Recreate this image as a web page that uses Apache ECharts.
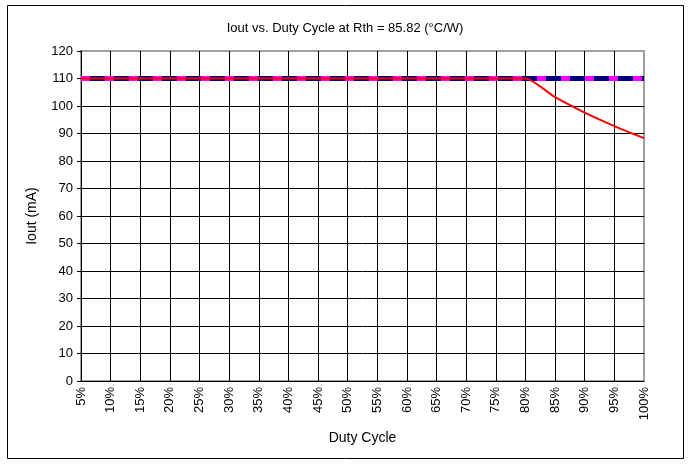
<!DOCTYPE html>
<html><head><meta charset="utf-8">
<script src="https://cdn.jsdelivr.net/npm/echarts@6/dist/echarts.min.js"></script>
<style>html,body{margin:0;padding:0;background:#fff}#c{width:690px;height:464px}</style>
</head><body><div id="c"></div>
<script>
var categories = ['5%','10%','15%','20%','25%','30%','35%','40%','45%','50%','55%','60%','65%','70%','75%','80%','85%','90%','95%','100%'];
var ioutActual = [110,110,110,110,110,110,110,110,110,110,110,110,110,110,110,110,103.2,97.6,92.7,88.3];
var ioutTarget = [110,110,110,110,110,110,110,110,110,110,110,110,110,110,110,110,110,110,110,110];
var ioutSet = [110,110,110,110,110,110,110,110,110,110,110,110,110,110,110,110,110,110,110,110];
var yTicks = {min: 0, max: 120, interval: 10};
var font = '"Liberation Sans", Arial, sans-serif';
var chart = echarts.init(document.getElementById('c'), null, {renderer: 'canvas'});
chart.setOption({
  animation: false,
  backgroundColor: '#fff',
  title: {text: 'Iout vs. Duty Cycle at Rth = 85.82 (°C/W)', left: 'center', top: 17,
    textStyle: {fontFamily: font, fontSize: 13, fontWeight: 'normal', color: '#000'}},
  graphic: [{type: 'rect', shape: {x: 7.5, y: 5.5, width: 676, height: 453},
    style: {fill: 'none', stroke: '#000', lineWidth: 1}, z: -1}],
  grid: {left: 81, right: 46, top: 51, bottom: 83, show: true, borderColor: '#a0a0a0', borderWidth: 2, backgroundColor: '#fff'},
  xAxis: {type: 'category', data: categories, boundaryGap: false,
    name: 'Duty Cycle', nameLocation: 'middle', nameGap: 50,
    nameTextStyle: {fontFamily: font, fontSize: 14, color: '#000'},
    axisLine: {lineStyle: {color: '#000', width: 1}},
    axisTick: {show: false},
    splitLine: {show: true, showMinLine: false, showMaxLine: false, lineStyle: {color: '#000', width: 1}},
    axisLabel: {rotate: 90, fontFamily: font, fontSize: 13, color: '#000', margin: 6}},
  yAxis: {type: 'value', min: yTicks.min, max: yTicks.max, interval: yTicks.interval,
    name: 'Iout (mA)', nameLocation: 'middle', nameGap: 42, nameRotate: 90,
    nameTextStyle: {fontFamily: font, fontSize: 14, color: '#000'},
    axisLine: {show: true, lineStyle: {color: '#000', width: 1}},
    axisTick: {show: true, length: 4, lineStyle: {color: '#000'}},
    splitLine: {show: true, showMinLine: false, showMaxLine: false, lineStyle: {color: '#000', width: 1}},
    axisLabel: {fontFamily: font, fontSize: 13, color: '#000', margin: 8}},
  series: [
    {type: 'line', data: ioutSet, symbol: 'none', z: 2, lineStyle: {color: '#000080', width: 5}},
    {type: 'line', data: ioutTarget, symbol: 'none', z: 3, lineStyle: {color: '#ff00ff', width: 5, type: [9, 15]}},
    {type: 'line', data: ioutActual, symbol: 'none', z: 4, smooth: 0.2, lineStyle: {color: '#ff0000', width: 2}}
  ]
});
</script></body></html>
